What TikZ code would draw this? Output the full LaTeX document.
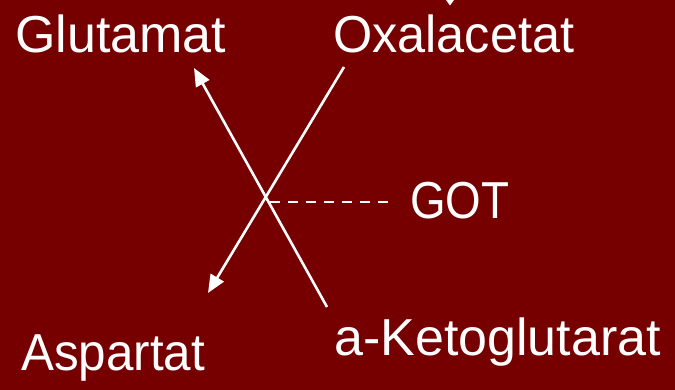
\documentclass[tikz,border=0pt]{standalone}
\usepackage{fontspec}
\setmainfont{Liberation Sans}
\usetikzlibrary{arrows.meta}
\definecolor{bgred}{HTML}{760000}
\tikzset{
  label text/.style={text=white, inner sep=0pt, anchor=base west,
    font=\fontsize{52}{60}\selectfont},
  react/.style={draw=white, line width=2.6pt},
  react arrow/.style={react, -{Triangle[length=18pt,width=15pt]}},
  link/.style={draw=white, line width=2.6pt, dash pattern=on 10pt off 8pt}
}
\begin{document}
\begin{tikzpicture}[x=1pt,y=-1pt]
  \fill[bgred] (0,0) rectangle (675,390);
  \useasboundingbox (0,0) rectangle (675,390);

  % metabolite labels
  \node[label text] (glu) at (15,53) {Glutamat};
  \node[label text, xscale=0.97] (oxa) at (333,53) {Oxalacetat};
  \node[label text, xscale=0.95] (asp) at (21,370) {Aspartat};
  \node[label text] (akg) at (334,355) {a-Ketoglutarat};
  \node[label text, xscale=0.88] (got) at (410,219) {GOT};

  % end points of the crossed reaction arrows
  \coordinate (akgTop) at (327,307);
  \coordinate (gluTip) at (194,68);
  \coordinate (oxaLow) at (344,67);
  \coordinate (aspTip) at (208,293);
  \coordinate (cross) at (270,202);
  \coordinate (gotEnd) at (390,202);

  \draw[react arrow] (akgTop) -- (gluTip);
  \draw[react arrow] (oxaLow) -- (aspTip);
  \draw[link] (cross) -- (gotEnd);

  % small arrowhead entering from the top edge
  \fill[white] (446,0) -- (454,0) -- (450,5.5) -- cycle;
\end{tikzpicture}
\end{document}
